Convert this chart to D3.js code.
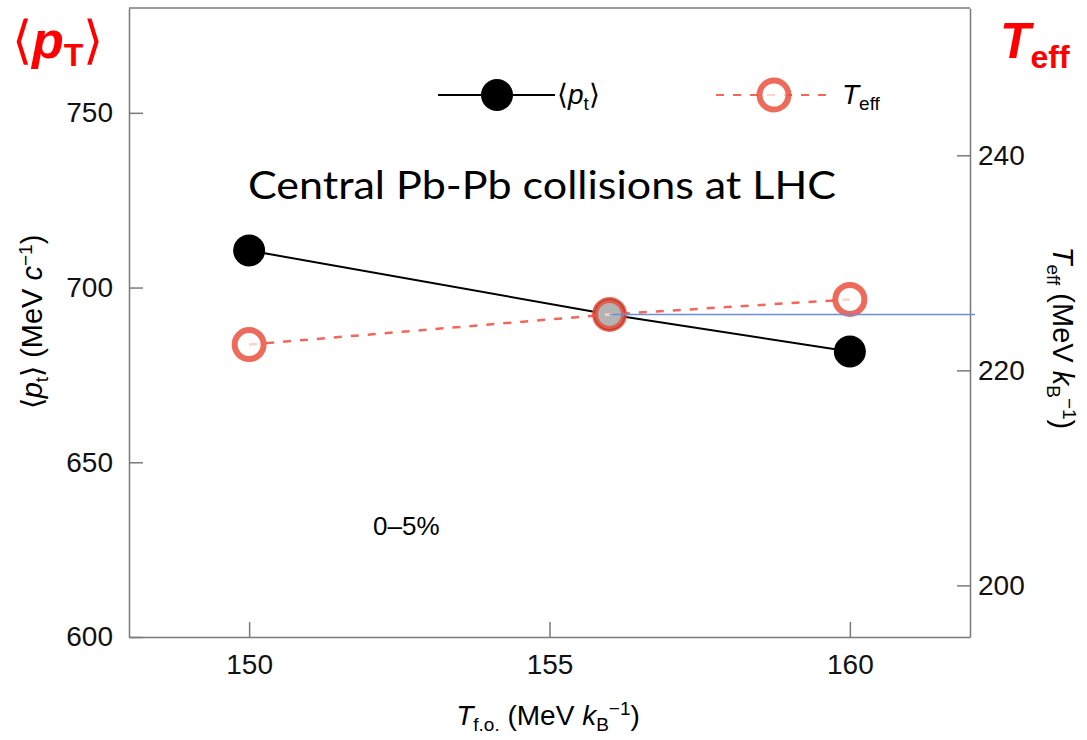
<!DOCTYPE html>
<html>
<head>
<meta charset="utf-8">
<script src="https://cdn.jsdelivr.net/npm/d3@7"></script>
<style>
  body { margin: 0; background: #fff; }
  svg text { font-family: "Liberation Sans", Arial, sans-serif; }
  .axis path, .axis line { stroke: #7a7a7a; stroke-width: 1.5; }
  .axis text { font-size: 28px; fill: #111; }
</style>
</head>
<body>
<div id="vis-svg"></div>
<script>
// freeze-out temperatures (MeV) on the x axis
var tfo = [150, 156, 160];
// mean transverse momentum, left axis
var meanPt = [710.6, 692.3, 681.7];
// effective temperature, right axis
var tEff = [222.4, 225.2, 226.6];
// horizontal guide line drawn from the middle point
var guideTeff = 225.2;
var xTicks = [150, 155, 160];
var leftTicks = [600, 650, 700, 750];
var rightTicks = [200, 220, 240];

var width = 1087;
var height = 740;

var svg = d3.select("#vis-svg")
  .append("svg")
  .attr("width", width)
  .attr("height", height);

var x = d3.scaleLinear().domain([148, 162]).range([129, 970]);
var yL = d3.scaleLinear().domain([600, 780]).range([637, 8]);
var yR = d3.scaleLinear().domain([195.2, 253.7]).range([637, 8]);

// axes, ticks pointing inwards
svg.append("g")
  .attr("class", "axis")
  .attr("transform", "translate(0,637)")
  .call(d3.axisBottom(x).tickValues(xTicks).tickSizeInner(-15).tickSizeOuter(0).tickPadding(17));

svg.append("g")
  .attr("class", "axis")
  .attr("transform", "translate(129,0)")
  .call(d3.axisLeft(yL).tickValues(leftTicks).tickSizeInner(-14).tickSizeOuter(0).tickPadding(16));

svg.append("g")
  .attr("class", "axis")
  .attr("transform", "translate(970,0)")
  .call(d3.axisRight(yR).tickValues(rightTicks).tickSizeInner(-13).tickSizeOuter(0).tickPadding(8));

svg.selectAll(".axis .domain").attr("stroke", "#7a7a7a");

// top border of the frame
svg.append("line")
  .attr("x1", x.range()[0]).attr("x2", x.range()[1])
  .attr("y1", 8).attr("y2", 8)
  .attr("stroke", "#7a7a7a").attr("stroke-width", 1.5);

var ptData = tfo.map(function (t, i) { return { t: t, v: meanPt[i] }; });
var teData = tfo.map(function (t, i) { return { t: t, v: tEff[i] }; });

// black solid line + filled markers
svg.append("path")
  .datum(ptData)
  .attr("fill", "none")
  .attr("stroke", "#000")
  .attr("stroke-width", 2)
  .attr("d", d3.line().x(function (d) { return x(d.t); }).y(function (d) { return yL(d.v); }));

svg.selectAll("circle.pt")
  .data(ptData)
  .enter()
  .append("circle")
  .attr("class", "pt")
  .attr("cx", function (d) { return x(d.t); })
  .attr("cy", function (d) { return yL(d.v); })
  .attr("r", 16)
  .attr("fill", "#000");

// red dashed line + open markers
svg.append("path")
  .datum(teData)
  .attr("fill", "none")
  .attr("stroke", "#f3665a")
  .attr("stroke-width", 2.5)
  .attr("stroke-dasharray", "8,9")
  .attr("d", d3.line().x(function (d) { return x(d.t); }).y(function (d) { return yR(d.v); }));

svg.selectAll("circle.te")
  .data(teData)
  .enter()
  .append("circle")
  .attr("class", "te")
  .attr("cx", function (d) { return x(d.t); })
  .attr("cy", function (d) { return yR(d.v); })
  .attr("r", 14.5)
  .attr("fill", "#fff")
  .attr("fill-opacity", 0.7)
  .attr("stroke", "#ea4a38")
  .attr("stroke-opacity", 0.82)
  .attr("stroke-width", 6);

// blue guide line
svg.append("line")
  .attr("x1", x(tfo[1])).attr("x2", x.range()[1] + 5)
  .attr("y1", yR(guideTeff)).attr("y2", yR(guideTeff))
  .attr("stroke", "#6b8fd6")
  .attr("stroke-width", 1.5);

// legend
var leg = svg.append("g");
leg.append("line").attr("x1", 438).attr("x2", 555).attr("y1", 95).attr("y2", 95)
  .attr("stroke", "#000").attr("stroke-width", 2);
leg.append("circle").attr("cx", 497).attr("cy", 95).attr("r", 16).attr("fill", "#000");
var lt1 = leg.append("text").attr("x", 557).attr("y", 104).attr("font-size", 28);
lt1.append("tspan").text("\u27E8");
lt1.append("tspan").attr("font-style", "italic").text("p");
lt1.append("tspan").attr("font-size", 19).attr("dy", 6).text("t");
lt1.append("tspan").attr("dy", -6).text("\u27E9");

leg.append("line").attr("x1", 716).attr("x2", 832).attr("y1", 95).attr("y2", 95)
  .attr("stroke", "#f3665a").attr("stroke-width", 2).attr("stroke-dasharray", "8,9");
leg.append("circle").attr("cx", 774).attr("cy", 95).attr("r", 14.5)
  .attr("fill", "#fff").attr("fill-opacity", 0.7)
  .attr("stroke", "#ea4a38").attr("stroke-opacity", 0.82).attr("stroke-width", 6);
var lt2 = leg.append("text").attr("x", 842).attr("y", 104).attr("font-size", 28);
lt2.append("tspan").attr("font-style", "italic").text("T");
lt2.append("tspan").attr("font-size", 19).attr("dy", 6).text("eff");

// annotations
svg.append("text")
  .attr("x", 248).attr("y", 199)
  .attr("font-size", 39)
  .attr("textLength", 588)
  .attr("lengthAdjust", "spacingAndGlyphs")
  .style("font-family", "Lato, 'Open Sans', sans-serif")
  .text("Central Pb-Pb collisions at LHC");

svg.append("text")
  .attr("x", 373).attr("y", 535)
  .attr("font-size", 26)
  .text("0\u20135%");

// x axis title
var xt = svg.append("text").attr("x", 548).attr("y", 725).attr("text-anchor", "middle").attr("font-size", 28);
xt.append("tspan").attr("font-style", "italic").text("T");
xt.append("tspan").attr("font-size", 19).attr("dy", 6).text("f.o.");
xt.append("tspan").attr("dy", -6).text(" (MeV ");
xt.append("tspan").attr("font-style", "italic").text("k");
xt.append("tspan").attr("font-size", 19).attr("dy", 6).text("B");
xt.append("tspan").attr("font-size", 19).attr("dy", -16).text("\u22121");
xt.append("tspan").attr("dy", 10).text(")");

// left axis title
var ylt = svg.append("text")
  .attr("transform", "translate(42,322) rotate(-90)")
  .attr("text-anchor", "middle").attr("font-size", 29);
ylt.append("tspan").text("\u27E8");
ylt.append("tspan").attr("font-style", "italic").text("p");
ylt.append("tspan").attr("font-size", 19).attr("dy", 6).text("t");
ylt.append("tspan").attr("dy", -6).text("\u27E9 (MeV ");
ylt.append("tspan").attr("font-style", "italic").text("c");
ylt.append("tspan").attr("font-size", 19).attr("dy", -10).text("\u22121");
ylt.append("tspan").attr("dy", 10).text(")");

// right axis title
var yrt = svg.append("text")
  .attr("transform", "translate(1053,338) rotate(90)")
  .attr("text-anchor", "middle").attr("font-size", 29);
yrt.append("tspan").attr("font-style", "italic").text("T");
yrt.append("tspan").attr("font-size", 19).attr("dy", 6).text("eff");
yrt.append("tspan").attr("dy", -6).text(" (MeV ");
yrt.append("tspan").attr("font-style", "italic").text("k");
yrt.append("tspan").attr("font-size", 19).attr("dy", 6).text("B");
yrt.append("tspan").attr("font-size", 19).attr("dy", -16).text("\u22121");
yrt.append("tspan").attr("dy", 10).text(")");

// red corner labels
var cl = svg.append("text").attr("x", 12).attr("y", 58).attr("fill", "#ff0000")
  .attr("font-size", 52).attr("font-weight", "bold");
cl.append("tspan").attr("font-weight", "normal").text("\u27E8");
cl.append("tspan").attr("font-style", "italic").text("p");
cl.append("tspan").attr("font-size", 32).attr("dy", 8).text("T");
cl.append("tspan").attr("font-weight", "normal").attr("dy", -8).text("\u27E9");

var cr = svg.append("text").attr("x", 1000).attr("y", 58).attr("fill", "#ff0000")
  .attr("font-size", 50).attr("font-weight", "bold");
cr.append("tspan").attr("font-style", "italic").text("T");
cr.append("tspan").attr("font-size", 32).attr("dy", 10).text("eff");
</script>
</body>
</html>
